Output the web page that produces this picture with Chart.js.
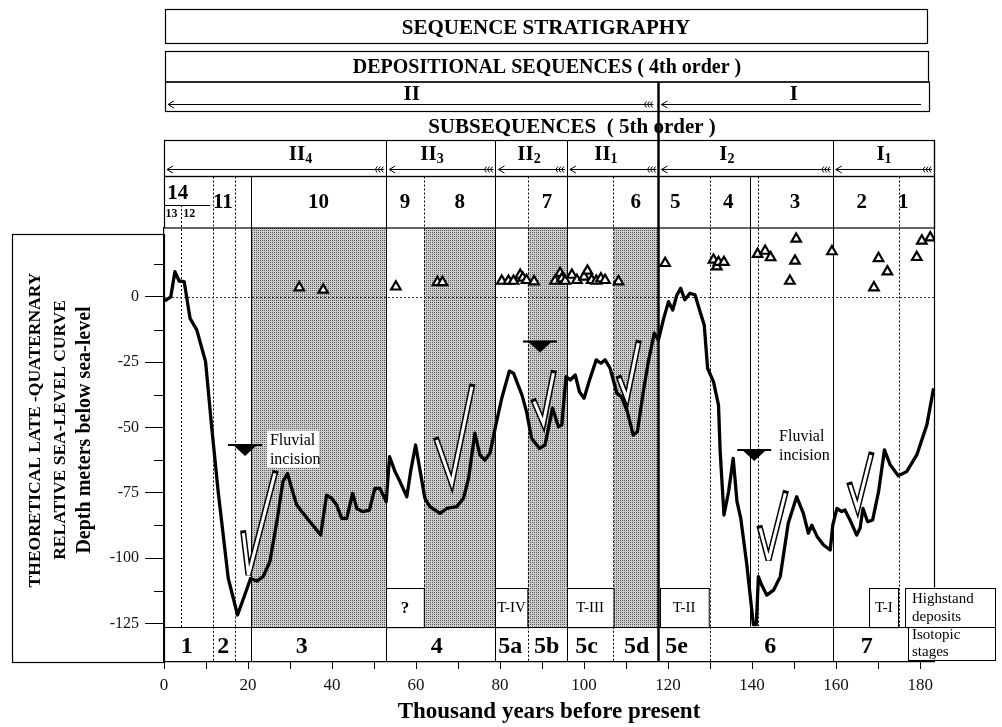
<!DOCTYPE html>
<html>
<head>
<meta charset="utf-8">
<script src="https://cdn.jsdelivr.net/npm/chart.js@4.4.0/dist/chart.umd.min.js"></script>
<style>
    html, body { margin: 0; padding: 0; background: #fff; }
    #grafico { display: block; }
</style>
</head>
<body>
<canvas id="grafico" width="1002" height="727"></canvas>
<script>
// Curva teórica do nível do mar (mil anos AP / metros)
const idadeCurva = [0.2, 1.6, 2.6, 3.6, 4.8, 6.2, 7.8, 9.9, 11.3, 12.9, 15.3, 17.5, 19.5, 20.6, 22.1, 23.6, 25.2, 27.0, 28.3, 29.4,
    30.4, 31.6, 32.8, 34.4, 36.0, 37.3, 38.7, 39.9, 41.1, 42.3, 43.5, 44.9, 45.9, 47.3, 48.9, 50.2, 51.4, 52.9, 53.7, 55.0,
    56.2, 57.8, 58.7, 59.9, 61.0, 62.1, 63.3, 65.7, 67.3, 69.7, 71.3, 72.5, 74.0, 75.2, 76.4, 77.6, 79.0, 80.4, 82.2, 83.2,
    85.2, 86.3, 87.5, 89.4, 90.7, 92.5, 93.9, 94.7, 95.7, 96.7, 97.9, 98.9, 100.0, 101.3, 102.9, 104.0, 105.0, 106.2, 107.8, 108.9,
    110.3, 111.7, 112.7, 114.1, 115.3, 116.7, 117.7, 118.9, 120.1, 121.1, 122.1, 123.0, 124.0, 125.2, 126.4, 127.6, 128.6, 129.4, 130.8, 132.0,
    132.4, 133.3, 134.4, 135.5, 136.4, 137.3, 138.7, 140.3, 141.0, 141.5, 142.2, 143.5, 145.1, 146.7, 148.6, 150.6, 152.2, 153.4, 154.2, 155.5,
    157.0, 158.6, 159.2, 160.2, 161.3, 162.1, 163.3, 164.9, 165.7, 166.4, 167.5, 168.7, 170.1, 171.5, 172.9, 174.8, 176.8, 179.2, 181.6, 183.2];
const nivelCurva = [-1.5, 0, 9.7, 6.1, 5.9, -8.2, -12.6, -24.8, -49, -74.6, -107.8, -121.8, -112.9, -107.8, -108.8, -107.1, -101.4, -84.8, -70.8, -67.6,
    -73.3, -79.7, -82.2, -85.4, -88.6, -91.2, -75.9, -77.1, -79.7, -84.8, -84.8, -75.2, -81, -82.2, -81.6, -73.3, -73.3, -78.4, -61.2, -66.9,
    -70.8, -76.5, -66.9, -56.7, -66.9, -77.1, -80.3, -82.9, -81, -80.3, -77.1, -69.5, -52.2, -60.5, -62.5, -59.9, -49, -38.8, -28.4, -29.2,
    -37.5, -43.9, -54.1, -58, -56.7, -42.6, -49.7, -49, -30.5, -31.8, -29.9, -36.3, -38.8, -31.8, -24.1, -25.4, -24.1, -27.3, -36.9, -38.2,
    -43.9, -52.9, -51.6, -36.3, -24.8, -13.9, -16.5, -8.5, -1.8, -5, 0.8, 3.3, -1.1, 1.4, 0.8, -5.6, -10.7, -27.3, -32.4, -41.4,
    -59.3, -83.5, -74.6, -61.8, -78.4, -84.8, -102, -125.5, -125.5, -107.1, -110, -114.2, -112.3, -107.1, -86.7, -76.5, -82.9, -90.5, -87.4, -91.8,
    -95, -96.9, -87.4, -81, -82.2, -81.6, -85.4, -91.2, -88.6, -81, -86.1, -85.4, -74.6, -58.6, -64.4, -68.5, -66.9, -60.5, -49, -35];

// Indicadores de nível do mar (triângulos vazados)
const idadeTriangulos = [32.2, 37.9, 55.2, 65.1, 66.3, 80.4, 82.0, 83.2, 84.8, 85.4, 86.3, 88.1, 93.1, 94.3, 94.7, 95.5, 97.1, 98.3, 100.0, 100.8,
    101.8, 102.9, 104.0, 105.0, 108.2, 119.3, 130.8, 131.6, 132.0, 133.3, 141.3, 143.1, 144.4, 149.0, 150.2, 150.5, 159.0, 169.0, 170.1, 172.2,
    179.2, 180.4, 182.4];
const nivelTriangulos = [3.6, 2.7, 3.9, 5.6, 5.6, 6.1, 6.1, 6.1, 8.4, 7.3, 6.4, 5.9, 6.1, 9.1, 7.0, 6.1, 8.4, 6.4, 7.7, 10.0,
    6.4, 6.1, 7.0, 6.4, 5.9, 12.9, 14.2, 11.6, 13.3, 13.3, 16.4, 17.6, 15.1, 6.1, 13.8, 22.2, 17.4, 3.6, 14.8, 9.7,
    15.2, 21.5, 22.7];

// Setas transgressivas (vértice esquerdo, fundo, ponta)
const setasTransgressivas = [
    [[18.9, -90.5], [20.1, -106.5], [26.4, -67.6]],
    [[64.9, -54.8], [68.5, -71.4], [73.3, -34.4]],
    [[88.1, -40.1], [90.3, -48.4], [92.7, -29.2]],
    [[108.4, -31.2], [110.2, -38.8], [112.9, -17.7]],
    [[141.9, -88.6], [143.9, -100.8], [147.9, -75.2]],
    [[163.3, -72.0], [165.1, -81.0], [168.3, -60.5]]
];
const incisoesFluviais = [[19.3, -56.7], [89.5, -17.1], [140.5, -58.6]];
const rotulosIncisao = [[24.5, -51.2], [145.7, -49.6]];

// Divisões e rótulos das tabelas
const faixasSombreadas = [[20.8, 52.9], [61.9, 78.9], [86.6, 95.9], [107.0, 117.7]];
const linhasSolidas = [20.8, 52.9, 78.9, 95.9, 139.4, 159.2];
const linhasPontilhadas = [11.6, 17.0, 61.9, 86.6, 107.0, 130.0, 141.5, 175.0];
const linhaEstagios13e12 = 4.0;
const limiteSequencias = 117.7;

const sequencias = ['II', 'I'];
const limitesSequencias = [0, 117.7, 182];
const subsequencias = [['II', '4'], ['II', '3'], ['II', '2'], ['II', '1'], ['I', '2'], ['I', '1']];
const limitesSubseq = [0, 52.9, 78.9, 95.9, 117.7, 159.2, 183.3];
const idadeRotuloSubseq = [32.5, 63.8, 86.9, 105.2, 134.0, 171.4];

const numerosSequencia = ['11', '10', '9', '8', '7', '6', '5', '4', '3', '2', '1'];
const idadeNumeros = [14.0, 36.8, 57.4, 70.4, 91.2, 112.3, 121.7, 134.3, 150.2, 166.1, 176.0];

const estagiosIsotopicos = ['1', '2', '3', '4', '5a', '5b', '5c', '5d', '5e', '6', '7'];
const idadeEstagios = [5.4, 14.1, 32.8, 64.9, 82.4, 91.1, 100.6, 112.5, 122.0, 144.3, 167.3];
const limitesEstagios = [11.6, 17.0, 20.8, 52.9, 78.9, 86.6, 95.9, 107.0, 117.7, 130.0, 159.2];
const estagiosSolidos = [20.8, 52.9, 78.9, 95.9, 117.7, 159.2];

const terracos = ['?', 'T-IV', 'T-III', 'T-II', 'T-I'];
const limitesTerracos = [[52.9, 61.9], [78.9, 86.6], [95.9, 107.0], [118.0, 129.6], [167.9, 174.8]];

const ticksY = [0, -25, -50, -75, -100, -125];
const ticksYMenores = [12.5, -12.5, -37.5, -62.5, -87.5, -112.5];

const NIVEL_ESTAGIOS = -126.3;   // topo da faixa de estágios isotópicos
const NIVEL_TERRACOS = -111.3;   // topo das caixas de terraços
const SERIF = '"Liberation Serif", "Times New Roman", serif';

// Funções auxiliares
function criarPadrao(ctx) {
    const c = document.createElement('canvas');
    c.width = 2; c.height = 2;
    const g = c.getContext('2d');
    g.fillStyle = '#cdcdcd';
    g.fillRect(0, 0, 2, 2);
    g.fillStyle = '#5a5a5a';
    g.fillRect(0, 0, 1, 1);
    return ctx.createPattern(c, 'repeat');
}

function linhaV(ctx, x, y1, y2, pontilhada, largura) {
    const xx = Math.round(x) + 0.5;
    ctx.beginPath();
    ctx.setLineDash(pontilhada ? [2, 2] : []);
    ctx.lineWidth = largura || 1;
    ctx.moveTo(xx, y1);
    ctx.lineTo(xx, y2);
    ctx.stroke();
    ctx.setLineDash([]);
}

function escrever(ctx, txt, x, y, fonte, alinhamento) {
    ctx.font = fonte;
    ctx.textAlign = alinhamento || 'center';
    ctx.textBaseline = 'middle';
    ctx.fillStyle = '#000';
    ctx.fillText(txt, x, y);
}

function seta(ctx, x1, x2, y, cauda) {
    ctx.setLineDash([]);
    ctx.lineWidth = 1;
    ctx.beginPath();
    ctx.moveTo(x1, y);
    ctx.lineTo(x2, y);
    ctx.moveTo(x1 + 6, y - 3.5);
    ctx.lineTo(x1, y);
    ctx.lineTo(x1 + 6, y + 3.5);
    if (cauda) {
        for (let i = 0; i < 3; i++) {
            const cx = x2 - 9 + i * 3;
            ctx.moveTo(cx + 2, y - 3);
            ctx.lineTo(cx, y);
            ctx.lineTo(cx + 2, y + 3);
        }
    }
    ctx.stroke();
}

function rotuloSubscrito(ctx, base, indice, x, y) {
    const fBase = 'bold 21px ' + SERIF;
    const fInd = 'bold 14px ' + SERIF;
    ctx.font = fBase;
    const w1 = ctx.measureText(base).width;
    ctx.font = fInd;
    const w2 = ctx.measureText(indice).width;
    const x0 = x - (w1 + w2) / 2;
    escrever(ctx, base, x0, y, fBase, 'left');
    escrever(ctx, indice, x0 + w1, y + 4, fInd, 'left');
}

const estratigrafia = {
    id: 'estratigrafia',
    beforeDatasetsDraw(chart) {
        const { ctx, chartArea: area } = chart;
        const X = v => chart.scales.x.getPixelForValue(v);
        const Y = v => chart.scales.y.getPixelForValue(v);
        const yEst = Y(NIVEL_ESTAGIOS);
        const yTer = Y(NIVEL_TERRACOS);
        ctx.save();

        // Faixas sombreadas
        ctx.fillStyle = criarPadrao(ctx);
        faixasSombreadas.forEach(([a, b]) => ctx.fillRect(X(a), area.top, X(b) - X(a), yEst - area.top));

        // Linhas verticais do campo
        ctx.strokeStyle = '#000';
        linhasSolidas.forEach(v => linhaV(ctx, X(v), 176.5, yEst, false, 1));
        linhasPontilhadas.forEach(v => linhaV(ctx, X(v), 176.5, yEst, true, 1));
        linhaV(ctx, X(linhaEstagios13e12), 205, yEst, true, 1);
        [52.9, 78.9, 95.9, 159.2].forEach(v => linhaV(ctx, X(v), 140, 176.5, false, 1));

        // Nível zero
        ctx.strokeStyle = '#333';
        ctx.setLineDash([2, 2]);
        ctx.lineWidth = 1;
        ctx.beginPath();
        ctx.moveTo(area.left, Math.round(Y(0)) + 0.5);
        ctx.lineTo(area.right, Math.round(Y(0)) + 0.5);
        ctx.stroke();
        ctx.setLineDash([]);
        ctx.strokeStyle = '#000';

        // Títulos
        ctx.lineWidth = 1.2;
        ctx.strokeRect(165.5, 9.5, 762, 34);
        escrever(ctx, 'SEQUENCE STRATIGRAPHY', 546, 29, 'bold 21px ' + SERIF);
        ctx.strokeRect(165.5, 51.5, 763, 30.5);
        escrever(ctx, 'DEPOSITIONAL SEQUENCES ( 4th order )', 547, 68, 'bold 20px ' + SERIF);
        ctx.strokeRect(165.5, 82, 764, 29.5);
        sequencias.forEach((s, i) => {
            const x1 = i === 0 ? 165 : X(limitesSequencias[i]);
            const x2 = i === 0 ? X(limitesSequencias[1]) : 929;
            escrever(ctx, s, (x1 + x2) / 2, 95, 'bold 21px ' + SERIF);
            seta(ctx, x1 + 3, x2 - (i === 0 ? 5 : 8), 104.5, i === 0);
        });
        escrever(ctx, 'SUBSEQUENCES  ( 5th order )', 572, 128, 'bold 21px ' + SERIF);

        // Linha das subsequências
        ctx.lineWidth = 1.2;
        ctx.strokeRect(area.left + 0.5, 140.5, area.right - area.left, 36);
        subsequencias.forEach(([b, n], i) => {
            const x1 = X(limitesSubseq[i]);
            const x2 = X(limitesSubseq[i + 1]);
            rotuloSubscrito(ctx, b, n, X(idadeRotuloSubseq[i]), 155);
            seta(ctx, x1 + 3, x2 - 2, 169.5, true);
        });

        // Linha dos números de sequência
        ctx.lineWidth = 1.2;
        ctx.strokeRect(area.left + 0.5, 176.5, area.right - area.left, area.top - 176.5);
        numerosSequencia.forEach((n, i) => escrever(ctx, n, X(idadeNumeros[i]), 203, 'bold 21px ' + SERIF));
        escrever(ctx, '14', X(3.3), 194, 'bold 21px ' + SERIF);
        ctx.lineWidth = 1;
        ctx.beginPath();
        ctx.moveTo(X(0), 205.5);
        ctx.lineTo(X(11), 205.5);
        ctx.stroke();
        escrever(ctx, '13', X(1.8), 214, 'bold 12px ' + SERIF);
        escrever(ctx, '12', X(6.0), 214, 'bold 12px ' + SERIF);

        // Caixas de terraços (depósitos de mar alto)
        ctx.lineWidth = 1;
        terracos.forEach((t, i) => {
            const [a, b] = limitesTerracos[i];
            ctx.fillStyle = '#fff';
            ctx.fillRect(X(a), yTer, X(b) - X(a), yEst - yTer);
            ctx.strokeRect(Math.round(X(a)) + 0.5, Math.round(yTer) + 0.5, X(b) - X(a), yEst - yTer);
            escrever(ctx, t, (X(a) + X(b)) / 2, (yTer + yEst) / 2 + 1,
                t === '?' ? 'bold 17px ' + SERIF : '15px ' + SERIF);
        });

        // Borda direita do campo
        linhaV(ctx, area.right - 0.5, 140, area.bottom, false, 1.2);
        linhaV(ctx, X(limiteSequencias), 82, area.bottom, false, 2.5);

        // Faixa de estágios isotópicos
        ctx.lineWidth = 1.2;
        ctx.beginPath();
        ctx.moveTo(area.left, Math.round(yEst) + 0.5);
        ctx.lineTo(area.right, Math.round(yEst) + 0.5);
        ctx.stroke();
        limitesEstagios.forEach(v => {
            if (v === limiteSequencias) return;
            linhaV(ctx, X(v), yEst, area.bottom, !estagiosSolidos.includes(v), 1);
        });
        estagiosIsotopicos.forEach((e, i) => escrever(ctx, e, X(idadeEstagios[i]), (yEst + area.bottom) / 2 + 2, 'bold 24px ' + SERIF));

        // Legendas à direita
        ctx.fillStyle = '#fff';
        ctx.fillRect(905, yTer, 91, yEst - yTer);
        ctx.strokeRect(905.5, Math.round(yTer) + 0.5, 90, yEst - yTer);
        escrever(ctx, 'Highstand', 912, yTer + 11, '15px ' + SERIF, 'left');
        escrever(ctx, 'deposits', 912, yTer + 29, '15px ' + SERIF, 'left');
        ctx.fillStyle = '#fff';
        ctx.fillRect(908, yEst, 88, 33);
        ctx.strokeRect(908.5, Math.round(yEst) + 0.5, 87, 33);
        escrever(ctx, 'Isotopic', 912, yEst + 8, '15px ' + SERIF, 'left');
        escrever(ctx, 'stages', 912, yEst + 25, '15px ' + SERIF, 'left');

        // Caixa do título do eixo Y
        ctx.lineWidth = 1.2;
        ctx.strokeRect(12.5, 234.5, area.left - 12, area.bottom - 234);
        ctx.save();
        ctx.translate(0, 430);
        ctx.rotate(-Math.PI / 2);
        escrever(ctx, 'THEORETICAL LATE -QUATERNARY', 0, 35, 'bold 17.5px ' + SERIF);
        escrever(ctx, 'RELATIVE SEA-LEVEL CURVE', 0, 60, 'bold 17.5px ' + SERIF);
        escrever(ctx, 'Depth meters below sea-level', 0, 85, 'bold 20px ' + SERIF);
        ctx.restore();

        // Ticks menores do eixo Y
        ctx.lineWidth = 1;
        ctx.beginPath();
        ticksYMenores.forEach(v => {
            const y = Math.round(Y(v)) + 0.5;
            ctx.moveTo(area.left - 10, y);
            ctx.lineTo(area.left, y);
        });
        ctx.stroke();

        ctx.restore();
    },
    afterDatasetsDraw(chart) {
        const { ctx } = chart;
        const X = v => chart.scales.x.getPixelForValue(v);
        const Y = v => chart.scales.y.getPixelForValue(v);
        ctx.save();

        // Setas transgressivas vazadas
        ctx.lineJoin = 'miter';
        ctx.miterLimit = 4;
        setasTransgressivas.forEach(pts => {
            ctx.beginPath();
            pts.forEach(([x, y], i) => i ? ctx.lineTo(X(x), Y(y)) : ctx.moveTo(X(x), Y(y)));
            ctx.lineCap = 'square';
            ctx.lineWidth = 6;
            ctx.strokeStyle = '#000';
            ctx.stroke();
            ctx.lineCap = 'butt';
            ctx.lineWidth = 3;
            ctx.strokeStyle = '#fff';
            ctx.stroke();
        });

        // Incisões fluviais
        ctx.fillStyle = '#000';
        ctx.strokeStyle = '#000';
        incisoesFluviais.forEach(([x, y]) => {
            const px = X(x), py = Y(y);
            ctx.beginPath();
            ctx.moveTo(px - 12, py);
            ctx.lineTo(px + 12, py);
            ctx.lineTo(px, py + 11);
            ctx.closePath();
            ctx.fill();
            ctx.lineWidth = 2;
            ctx.beginPath();
            ctx.moveTo(px - 17, py);
            ctx.lineTo(px + 17, py);
            ctx.stroke();
        });

        rotulosIncisao.forEach(([x, y]) => {
            const px = X(x), py = Y(y);
            ctx.fillStyle = '#fff';
            ctx.fillRect(px, py, 52, 37);
            escrever(ctx, 'Fluvial', px + 3, py + 10, '16px ' + SERIF, 'left');
            escrever(ctx, 'incision', px + 3, py + 29, '16px ' + SERIF, 'left');
        });

        ctx.restore();
    }
};

const dadosCurva = idadeCurva.map((x, i) => ({ x: x, y: nivelCurva[i] }));
const dadosTriangulos = idadeTriangulos.map((x, i) => ({ x: x, y: nivelTriangulos[i] }));

Chart.defaults.font.family = SERIF;
Chart.defaults.color = '#111';

new Chart(document.getElementById('grafico').getContext('2d'), {
    type: 'line',
    data: {
        datasets: [{
            type: 'scatter',
            label: 'Indicadores',
            data: dadosTriangulos,
            pointStyle: 'triangle',
            pointRadius: 5.5,
            pointBorderWidth: 2.2,
            backgroundColor: '#fff',
            borderColor: '#000'
        }, {
            label: 'Nível do mar',
            data: dadosCurva,
            borderColor: '#000',
            borderWidth: 3.3,
            borderJoinStyle: 'round',
            pointRadius: 0,
            tension: 0,
            fill: false
        }]
    },
    options: {
        responsive: false,
        animation: false,
        devicePixelRatio: 1,
        layout: { padding: { left: 12, top: 228, right: 68, bottom: 0 } },
        plugins: {
            legend: { display: false },
            tooltip: { enabled: false }
        },
        scales: {
            x: {
                type: 'linear',
                min: 0,
                max: 183.3,
                border: { display: true, color: '#000', width: 1.2 },
                grid: { drawOnChartArea: false, tickLength: 7, color: '#000' },
                ticks: {
                    stepSize: 10,
                    includeBounds: false,
                    autoSkip: false,
                    maxRotation: 0,
                    padding: 6,
                    font: { size: 17 },
                    callback: v => (v % 20 === 0 ? v : '')
                },
                title: {
                    display: true,
                    text: 'Thousand years before present',
                    color: '#000',
                    font: { size: 23, weight: 'bold' },
                    padding: { top: 0, bottom: 1 }
                },
                afterFit: s => { s.height = 65; }
            },
            y: {
                type: 'linear',
                min: -139.8,
                max: 26.4,
                border: { display: true, color: '#000', width: 1.2 },
                grid: { drawOnChartArea: false, tickLength: 19, color: '#000' },
                afterBuildTicks: s => { s.ticks = ticksY.map(v => ({ value: v })); },
                ticks: {
                    padding: 6,
                    font: { size: 16 },
                    callback: v => v
                },
                afterFit: s => { s.width = 152; }
            }
        }
    },
    plugins: [estratigrafia]
});
</script>
</body>
</html>
